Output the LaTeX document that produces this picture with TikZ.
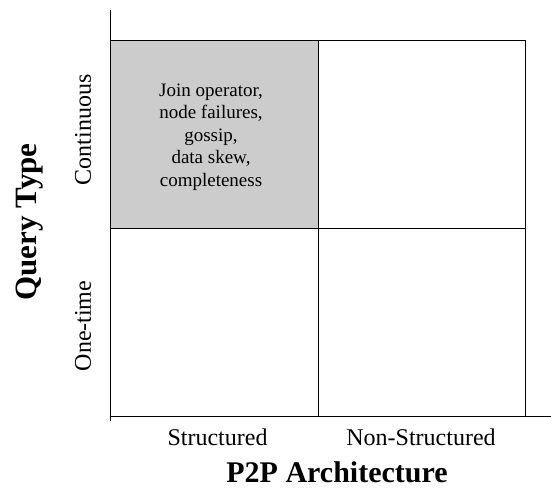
\documentclass[tikz,border=0pt]{standalone}
\usepackage{fontspec}
\setmainfont{Liberation Serif}
\begin{document}
\begin{tikzpicture}[x=1pt,y=-1pt,
		axislabel/.style={font=\fontsize{24}{28}\selectfont},
		axistitle/.style={font=\fontsize{30}{34}\selectfont\bfseries},
		celltext/.style={align=center,font=\fontsize{19}{22.5}\selectfont}]
			\useasboundingbox(0,0)rectangle(551,491);
			\fill[black!20](110,40)rectangle(318,228);
			\draw[line width=1pt](110,40)rectangle(525,416);
			\draw[line width=1pt](318,40)--(318,416);
			\draw[line width=1pt](110,228)--(525,228);
			\draw[line width=0.7pt](110,10)--(110,421);
			\draw[line width=0.7pt](110,416)--(551,416);
			\node[celltext](joinops)at(211,137){Join operator,\\node failures,\\gossip,\\data skew,\\completeness};
			\node[axislabel,rotate=90](continuous)at(83,130){Continuous};
			\node[axislabel,rotate=90](onetime)at(83,326){One-time};
			\node[axistitle,rotate=90,font=\fontsize{31}{35}\selectfont\bfseries](querytype)at(30,222){Query Type};
			\node[axislabel,anchor=base](structured)at(217.5,445){Structured};
			\node[axislabel,anchor=base](nonstructured)at(421,445){Non-Structured};
			\node[axistitle,anchor=base](p2parch)at(337,482){P2P Architecture};
		\end{tikzpicture}
\end{document}
